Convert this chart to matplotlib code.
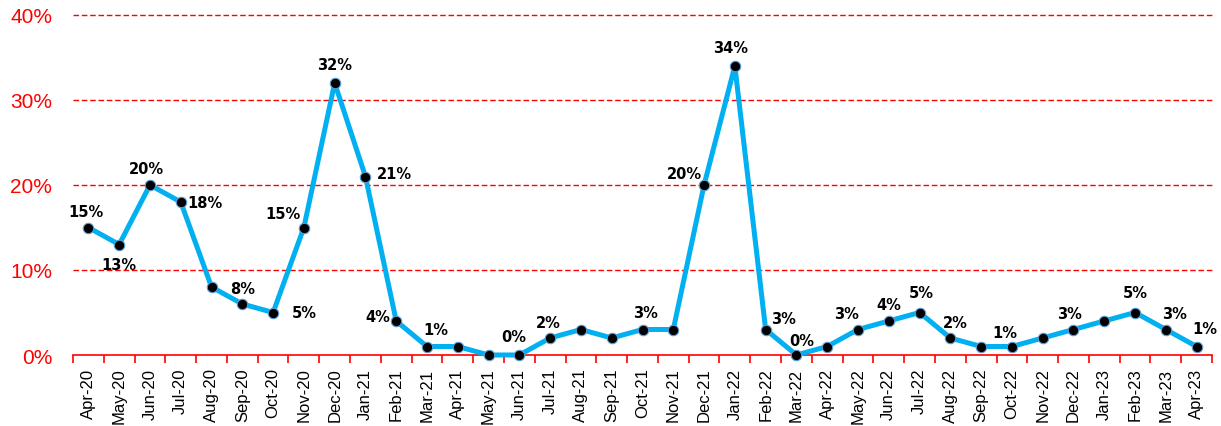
import matplotlib
matplotlib.use("Agg")
import matplotlib.pyplot as plt
import numpy as np

months = ["Apr-20", "May-20", "Jun-20", "Jul-20", "Aug-20", "Sep-20", "Oct-20", "Nov-20",
          "Dec-20", "Jan-21", "Feb-21", "Mar-21", "Apr-21", "May-21", "Jun-21", "Jul-21",
          "Aug-21", "Sep-21", "Oct-21", "Nov-21", "Dec-21", "Jan-22", "Feb-22", "Mar-22",
          "Apr-22", "May-22", "Jun-22", "Jul-22", "Aug-22", "Sep-22", "Oct-22", "Nov-22",
          "Dec-22", "Jan-23", "Feb-23", "Mar-23", "Apr-23"]
values = [15, 13, 20, 18, 8, 6, 5, 15,
          32, 21, 4, 1, 1, 0, 0, 2,
          3, 2, 3, 3, 20, 34, 3, 0,
          1, 3, 4, 5, 2, 1, 1, 2,
          3, 4, 5, 3, 1]
y_ticks = [0, 10, 20, 30, 40]

# label placement (pixel offsets from the point), only for labelled points
label_offsets = {0: (-2, 16), 1: (0, -20), 2: (-4, 16), 3: (24, -1), 4: (31, -2),
                 6: (31, 0), 7: (-21, 14), 8: (0, 18), 9: (29, 3), 10: (-18, 4),
                 11: (9, 17), 14: (-6, 19), 15: (-2, 15), 18: (3, 17), 20: (-20, 11),
                 21: (-4, 18), 22: (18, 11), 23: (5, 15), 25: (-11, 16), 26: (0, 17),
                 27: (2, 20), 28: (5, 15), 30: (-7, 14), 32: (-4, 16), 34: (0, 20),
                 35: (9, 16), 36: (8, 18)}

fig = plt.figure(figsize=(12.21, 4.27), dpi=100)
ax = fig.add_axes([73 / 1221, 1 - 356 / 427, (1212 - 73) / 1221, (356 - 16) / 427])

x = np.arange(len(months))
ax.set_xlim(-0.5, len(months) - 0.5)
ax.set_ylim(0, 40)

for t in y_ticks[1:]:
    ax.axhline(t, color="#FF0000", lw=1.0, ls=(0, (4, 2)), zorder=1, clip_on=False)

ax.plot(x, values, color="#00B0F0", lw=3.6, zorder=3, clip_on=False,
        solid_joinstyle="round", solid_capstyle="round")
ax.plot(x, values, ls="none", marker="o", ms=7.5, mfc="black", mec="#5B9BD5", mew=0.8,
        zorder=4, clip_on=False)

for i, (dx, dy) in label_offsets.items():
    ax.annotate(f"{values[i]}%", (x[i], values[i]), xytext=(dx, dy), textcoords="offset pixels",
                ha="center", va="center", fontsize=10.5, fontweight="bold",
                family="DejaVu Sans", color="black", zorder=5)

for s in ["top", "right", "left"]:
    ax.spines[s].set_visible(False)
ax.spines["bottom"].set_color("#FF0000")
ax.spines["bottom"].set_linewidth(1.2)
ax.spines["bottom"].set_zorder(2)

ax.set_yticks(y_ticks)
ax.set_yticklabels([f"{t}%" for t in y_ticks], color="#FF0000", fontsize=15,
                   family="Liberation Sans")
ax.tick_params(axis="y", length=0, pad=15)

ax.set_xticks(x)
ax.set_xticklabels(months, rotation=90, fontsize=12, family="Liberation Sans", color="black")
ax.set_xticks(np.arange(-0.5, len(months)), minor=True)
ax.tick_params(axis="x", which="major", length=0, pad=9)
ax.tick_params(axis="x", which="minor", length=6, color="#FF0000", width=1.2, direction="out")

fig.savefig("out.png", dpi=100)
